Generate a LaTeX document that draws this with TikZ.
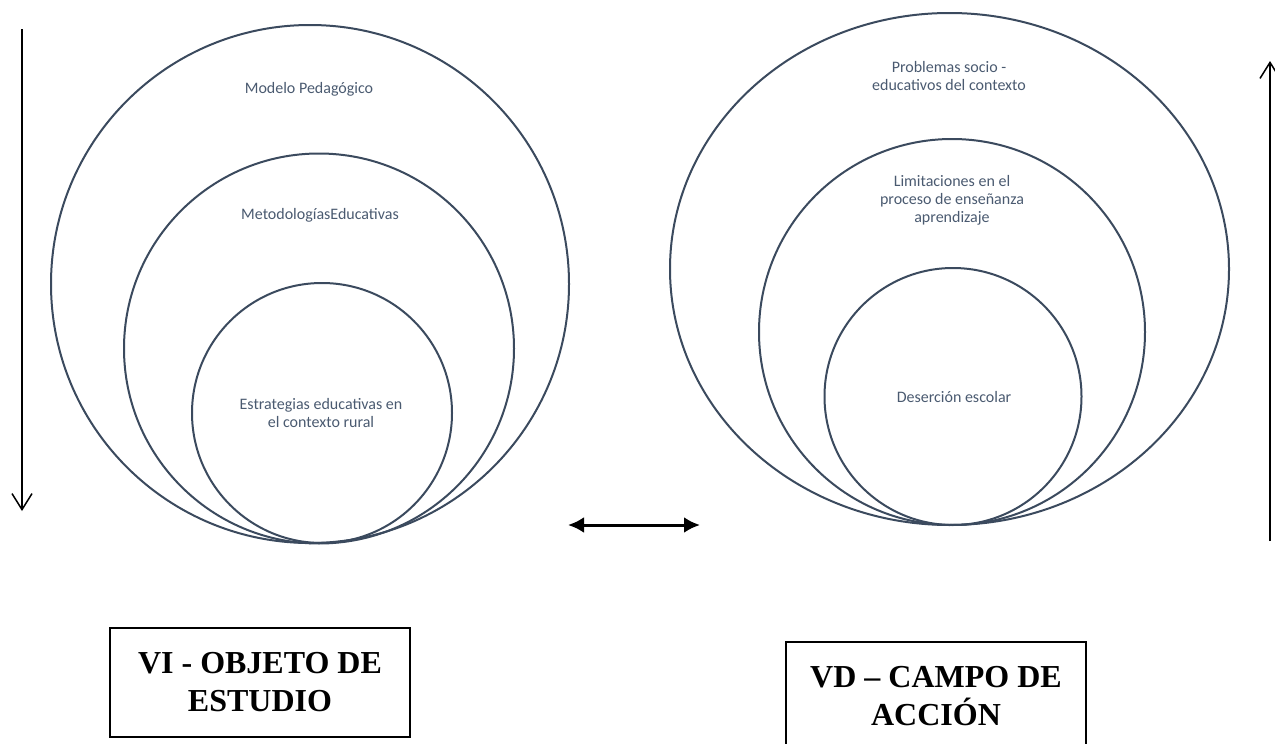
\documentclass[tikz,border=0pt]{standalone}
\usepackage{fontspec}
\setmainfont{Liberation Serif}
\newfontfamily\calibri{Carlito}
\usetikzlibrary{positioning}
\usetikzlibrary{shapes.geometric}
\usetikzlibrary{arrows.meta}
\definecolor{ringline}{HTML}{3B4A5E}
\definecolor{ringtext}{HTML}{4A5A70}

\begin{document}
\begin{tikzpicture}
    [
    x=0.5pt, y=-0.5pt,
    ring/.style={circle, draw=ringline, line width=1pt, inner sep=0pt},
    ringlabel/.style={font=\calibri\fontsize{8}{9}\selectfont, text=ringtext, align=center, inner sep=0pt},
    varbox/.style={draw, line width=1.2pt, minimum width=150pt, minimum height=54.5pt, align=center, inner sep=0pt,
        font=\bfseries\fontsize{16}{19}\selectfont},
    flowarrow/.style={-{Straight Barb[length=8pt,width=10pt]}, line width=0.75pt},
    linkarrow/.style={{Latex[length=8pt,width=8pt]}-{Latex[length=8pt,width=8pt]}, line width=1.5pt},
    ]
    \useasboundingbox (0,0) rectangle (1275,744);

    % objeto de estudio
    \node[ring, minimum size=259pt] (ring_modelo) at (310,284) {};
    \node[ring, minimum size=195pt] (ring_metodo) at (319,348.5) {};
    \node[ring, minimum size=130pt] (ring_estrat) at (322,413) {};

    \node[ringlabel] (lbl_modelo) at (309,89) {Modelo Pedagógico};
    \node[ringlabel] (lbl_metodo) at (320,215) {MetodologíasEducativas};
    \node[ringlabel] (lbl_estrat) at (321,413) {Estrategias educativas en\\el contexto rural};

    % campo de accion
    \node[ring, ellipse, minimum width=279.5pt, minimum height=256pt] (ring_problemas) at (949.5,269) {};
    \node[ring, minimum size=193pt] (ring_limit) at (952,332) {};
    \node[ring, minimum size=128.5pt] (ring_desercion) at (953,396.5) {};

    \node[ringlabel] (lbl_problemas) at (949,76) {Problemas socio -\\educativos del contexto};
    \node[ringlabel] (lbl_limit) at (952,200) {Limitaciones en el\\proceso de enseñanza\\aprendizaje};
    \node[ringlabel] (lbl_desercion) at (954,397) {Deserción escolar};

    % variables
    \node[varbox] (box_vi) at (260,682.5) {VI - OBJETO DE\\ESTUDIO};
    \node[varbox] (box_vd) at (936,696.5) {VD – CAMPO DE\\ACCIÓN};

    % flechas
    \coordinate (down_top) at (22,29);
    \coordinate (down_end) at (22,511);
    \coordinate (up_start) at (1270,541);
    \coordinate (up_end) at (1270,61);
    \coordinate (link_left) at (568,525);
    \coordinate (link_right) at (700,525);

    \draw[flowarrow] (down_top) -- (down_end);
    \draw[flowarrow] (up_start) -- (up_end);
    \draw[linkarrow] (link_left) -- (link_right);
\end{tikzpicture}
\end{document}
